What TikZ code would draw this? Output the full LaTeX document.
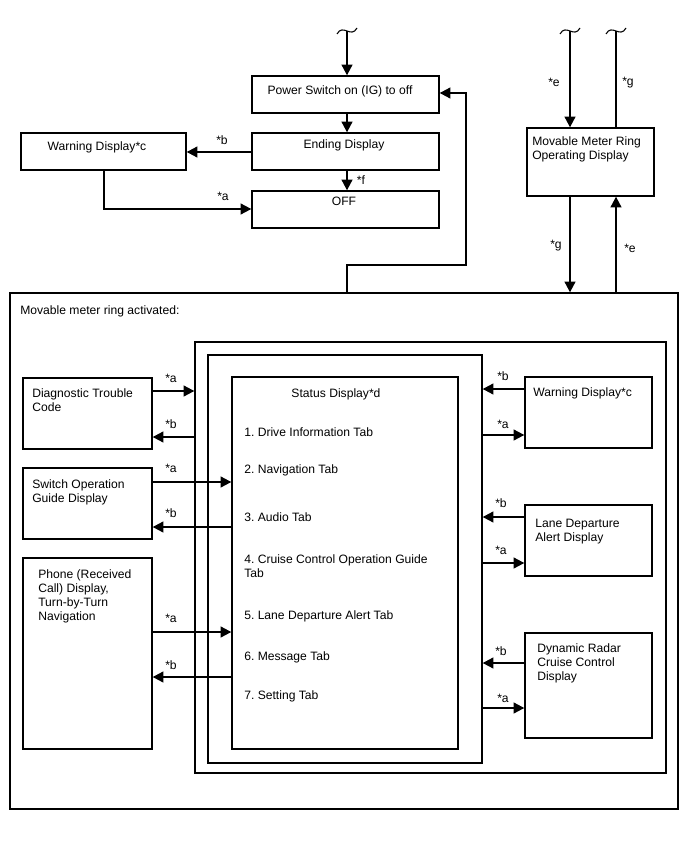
\documentclass[tikz,border=0pt]{standalone}
\usepackage{fontspec}
\setmainfont{Liberation Sans}
\usetikzlibrary{arrows.meta,fit}
\frenchspacing

\begin{document}
\begin{tikzpicture}[x=0.75pt,y=-0.75pt,
    font=\fontsize{9.1}{10.5}\selectfont,
    blk/.style={draw,line width=1pt,inner sep=0pt},
    txt/.style={inner sep=0pt,align=left,anchor=north west},
    lbl/.style={inner sep=0pt},
    arr/.style={line width=1.5pt,-{Triangle[length=8pt,width=8pt]}},
    ln/.style={line width=1.5pt},
    wavy/.pic={\draw[line width=0.8pt] (-10,3) .. controls (-4,-8) and (4,8) .. (10,-3);}]
  \useasboundingbox (0,0) rectangle (688,852);

  % upper part
  \node[blk,fit={(252,76) (439,113)}] (pwr) {};
  \node[blk,fit={(252,133) (439,170)}] (endg) {};
  \node[blk,fit={(252,191) (439,228)}] (off) {};
  \node[blk,fit={(21,133) (186,170)}] (warnT) {};
  \node[blk,fit={(527,128) (654,196)}] (mmr) {};
  \node[lbl,anchor=base] (pwrT) at (340,95) {Power Switch on (IG) to off};
  \node[lbl,anchor=base] (endgT) at (344,149) {Ending Display};
  \node[lbl,anchor=base] (offT) at (344,206) {OFF};
  \node[lbl,anchor=base] (warnTT) at (97,151) {Warning Display*c};
  \node[txt] (mmrT) at (532,136.5) {Movable Meter Ring\\Operating Display};

  % movable meter ring activated
  \node[blk,fit={(10,293) (678,809)}] (ring) {};
  \node[blk,fit={(195,342) (666,773)}] (frameA) {};
  \node[blk,fit={(208,355) (482,763)}] (frameB) {};
  \node[blk,fit={(232,377) (458,749)}] (status) {};
  \node[blk,fit={(23,378) (152,449)}] (dtc) {};
  \node[blk,fit={(23,468) (152,539)}] (sog) {};
  \node[blk,fit={(23,558) (152,749)}] (phone) {};
  \node[blk,fit={(525,377) (652,448)}] (warnR) {};
  \node[blk,fit={(525,505) (652,576)}] (lda) {};
  \node[blk,fit={(525,633) (652,738)}] (drcc) {};
  \node[lbl,anchor=base west] (ringT) at (20,314) {Movable meter ring activated:};
  \node[txt] (dtcT) at (32,388.5) {Diagnostic Trouble\\Code};
  \node[txt] (sogT) at (32,479.5) {Switch Operation\\Guide Display};
  \node[txt] (phoneT) at (38,569.5) {Phone (Received\\Call) Display,\\Turn-by-Turn\\Navigation};
  \node[lbl,anchor=base] (statusT) at (336,397) {Status Display*d};
  \node[lbl,anchor=base west] (tab1) at (244,436) {1. Drive Information Tab};
  \node[lbl,anchor=base west] (tab2) at (244,473) {2. Navigation Tab};
  \node[lbl,anchor=base west] (tab3) at (244,521) {3. Audio Tab};
  \node[txt] (tab4) at (244,554.5) {4. Cruise Control Operation Guide\\Tab};
  \node[lbl,anchor=base west] (tab5) at (244,619) {5. Lane Departure Alert Tab};
  \node[lbl,anchor=base west] (tab6) at (244,660) {6. Message Tab};
  \node[lbl,anchor=base west] (tab7) at (244,699) {7. Setting Tab};
  \node[lbl,anchor=base west] (warnRT) at (533,396) {Warning Display*c};
  \node[txt] (ldaT) at (535,518.5) {Lane Departure\\Alert Display};
  \node[txt] (drccT) at (537,643.5) {Dynamic Radar\\Cruise Control\\Display};

  % incoming / outgoing ends
  \coordinate (inPwr) at (347,31);
  \coordinate (inE) at (570,31);
  \coordinate (outG) at (616,31);
  \pic at (inPwr) {wavy};
  \pic at (inE) {wavy};
  \pic at (outG) {wavy};

  \draw[arr] (inPwr) -- (inPwr |- pwr.north);
  \draw[arr] (inPwr |- pwr.south) -- (inPwr |- endg.north);
  \draw[arr] (inPwr |- endg.south) -- (inPwr |- off.north);
  \node[lbl] (fLbl) at (361,180) {*f};
  \draw[arr] (endg.west |- 0,152) -- (warnT.east |- 0,152);
  \node[lbl] (bLbl) at (222,140) {*b};
  \draw[arr] (warnT.south) |- (off.west |- 0,209);
  \node[lbl] (aLbl) at (223,196) {*a};
  \draw[arr] (inPwr |- ring.north) |- (466,265) |- (pwr.east |- 0,93);

  \draw[arr] (inE) -- (inE |- mmr.north);
  \node[lbl] (eLbl1) at (554,82) {*e};
  \draw[ln] (outG |- mmr.north) -- (outG);
  \node[lbl] (gLbl1) at (628,83) {*g};
  \draw[arr] (inE |- mmr.south) -- (inE |- ring.north);
  \node[lbl] (gLbl2) at (556,246) {*g};
  \draw[arr] (outG |- ring.north) -- (outG |- mmr.south);
  \node[lbl] (eLbl2) at (630,248) {*e};

  % left side
  \draw[arr] (dtc.east |- 0,391) -- (frameA.west |- 0,391);
  \node[lbl] at (171,378) {*a};
  \draw[arr] (frameA.west |- 0,437) -- (dtc.east |- 0,437);
  \node[lbl] at (171,424) {*b};
  \draw[arr] (sog.east |- 0,482) -- (status.west |- 0,482);
  \node[lbl] at (171,468) {*a};
  \draw[arr] (status.west |- 0,527) -- (sog.east |- 0,527);
  \node[lbl] at (171,513) {*b};
  \draw[arr] (phone.east |- 0,632) -- (status.west |- 0,632);
  \node[lbl] at (171,618) {*a};
  \draw[arr] (status.west |- 0,677) -- (phone.east |- 0,677);
  \node[lbl] at (171,665) {*b};

  % right side
  \draw[arr] (warnR.west |- 0,389) -- (frameB.east |- 0,389);
  \node[lbl] at (503,376) {*b};
  \draw[arr] (frameB.east |- 0,435) -- (warnR.west |- 0,435);
  \node[lbl] at (503,424) {*a};
  \draw[arr] (lda.west |- 0,517) -- (frameB.east |- 0,517);
  \node[lbl] at (501,503) {*b};
  \draw[arr] (frameB.east |- 0,563) -- (lda.west |- 0,563);
  \node[lbl] at (501,550) {*a};
  \draw[arr] (drcc.west |- 0,663) -- (frameB.east |- 0,663);
  \node[lbl] at (501,651) {*b};
  \draw[arr] (frameB.east |- 0,708) -- (drcc.west |- 0,708);
  \node[lbl] at (503,698) {*a};
\end{tikzpicture}
\end{document}
